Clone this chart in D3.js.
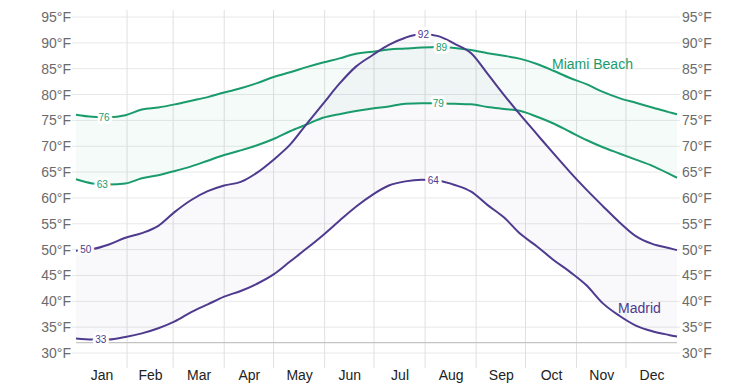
<!DOCTYPE html>
<html>
<head>
<meta charset="utf-8">
<script src="https://cdn.jsdelivr.net/npm/d3@7"></script>
<style>
  html, body { margin: 0; padding: 0; background: #fff; }
  svg { display: block; font-family: "Liberation Sans", Arial, sans-serif; }
</style>
</head>
<body>
<svg id="chart" width="753" height="387"></svg>
<script>
// ---- data (day of year, °F) ----
const days = [0,10,20,30,40,50,60,70,80,90,100,110,120,130,140,150,160,170,180,190,200,210,220,230,240,250,260,270,280,290,300,310,320,330,340,350,360,365];

const miamiHigh = [76.1,75.7,75.6,76.0,77.1,77.5,78.1,78.8,79.5,80.4,81.2,82.2,83.4,84.3,85.3,86.2,87.0,87.9,88.3,88.7,88.9,89.1,89.2,89.0,88.6,88.0,87.5,86.9,85.9,84.6,83.2,82.0,80.5,79.3,78.4,77.5,76.6,76.2];
const miamiLow  = [63.6,62.8,62.6,62.8,63.8,64.4,65.2,66.1,67.2,68.3,69.2,70.2,71.4,72.9,74.2,75.5,76.2,76.8,77.3,77.7,78.2,78.3,78.3,78.2,78.1,77.6,77.2,76.8,75.7,74.4,72.8,71.2,69.8,68.6,67.4,66.2,64.7,63.9];
const madridHigh = [49.8,50.1,51.0,52.3,53.2,54.6,57.3,59.6,61.3,62.4,63.1,64.9,67.4,70.3,74.3,78.2,82.1,85.4,87.6,89.6,91.0,91.7,91.3,89.8,88.0,84.0,79.9,76.0,72.3,68.6,65.0,61.6,58.4,55.3,52.6,51.1,50.3,49.9];
const madridLow  = [32.8,32.6,32.6,33.1,33.8,34.8,36.1,37.9,39.4,40.9,42.0,43.4,45.2,47.7,50.2,52.8,55.6,58.3,60.6,62.4,63.2,63.5,63.3,62.5,61.2,58.6,56.2,53.0,50.6,48.0,45.7,43.1,39.6,37.2,35.3,34.2,33.5,33.2];

const months = ["Jan","Feb","Mar","Apr","May","Jun","Jul","Aug","Sep","Oct","Nov","Dec"];
const monthStarts = [0,31,59,90,120,151,181,212,243,273,304,334,365];
const yTicks = [30,35,40,45,50,55,60,65,70,75,80,85,90,95];
const freezing = 32;

// extreme labels: [day, shown value]
const miamiHighLabels = [[17,76],[222,89]];
const miamiLowLabels  = [[16,63],[220,79]];
const madridHighLabels = [[6,50],[211,92]];
const madridLowLabels  = [[15,33],[217,64]];

// ---- drawing ----
const svg = d3.select("#chart");
const x = d3.scaleLinear().domain([0,365]).range([76,677]);
const y = d3.scaleLinear().domain([30,95]).range([353,17]);

const green = "#1a9b6c";
const purple = "#4e3a8e";

// horizontal grid
svg.append("g").selectAll("line").data(yTicks).join("line")
  .attr("x1", 72).attr("x2", 680)
  .attr("y1", d => y(d)).attr("y2", d => y(d))
  .attr("stroke", "#e8e8e8").attr("stroke-width", 1);

// vertical grid at month boundaries
svg.append("g").selectAll("line").data(monthStarts.slice(1,12)).join("line")
  .attr("x1", d => x(d)).attr("x2", d => x(d))
  .attr("y1", 10).attr("y2", 368)
  .attr("stroke", "#e0e0e0").attr("stroke-width", 1);

// freezing line
svg.append("line")
  .attr("x1", x(0)).attr("x2", x(365))
  .attr("y1", y(freezing)).attr("y2", y(freezing))
  .attr("stroke", "#c4c4c4").attr("stroke-width", 1.2);

// y axis labels (both sides)
const yAxisL = d3.axisLeft(y).tickValues(yTicks).tickSize(0).tickPadding(0).tickFormat(d => d + "°F");
const gl = svg.append("g").attr("transform", "translate(71,0)").call(yAxisL);
const yAxisR = d3.axisRight(y).tickValues(yTicks).tickSize(0).tickPadding(0).tickFormat(d => d + "°F");
const gr = svg.append("g").attr("transform", "translate(682,0)").call(yAxisR);
[gl, gr].forEach(g => {
  g.select(".domain").remove();
  g.selectAll("text").attr("fill", "#6b6b6b").style("font-size", "14px")
    .style("font-family", "'Liberation Sans', Arial, sans-serif");
});

// month labels
const xAxis = d3.axisBottom(x)
  .tickValues(months.map((m,i) => (monthStarts[i] + monthStarts[i+1]) / 2))
  .tickSize(0).tickPadding(0)
  .tickFormat((d,i) => months[i]);
const gx = svg.append("g").attr("transform", "translate(0,370)").call(xAxis);
gx.select(".domain").remove();
gx.selectAll("text").attr("fill", "#222").style("font-size", "14px")
  .style("font-family", "'Liberation Sans', Arial, sans-serif");

function series(hi, lo) { return days.map((d,i) => ({d, hi: hi[i], lo: lo[i]})); }
const miami = series(miamiHigh, miamiLow);
const madrid = series(madridHigh, madridLow);

const curve = d3.curveMonotoneX;
const area = d3.area().x(p => x(p.d)).y0(p => y(p.lo)).y1(p => y(p.hi)).curve(curve);
const lineHi = d3.line().x(p => x(p.d)).y(p => y(p.hi)).curve(curve);
const lineLo = d3.line().x(p => x(p.d)).y(p => y(p.lo)).curve(curve);

svg.append("path").datum(miami).attr("d", area).attr("fill", green).attr("fill-opacity", 0.045);
svg.append("path").datum(madrid).attr("d", area).attr("fill", purple).attr("fill-opacity", 0.035);

[[miami, green], [madrid, purple]].forEach(([s, c]) => {
  svg.append("path").datum(s).attr("d", lineHi).attr("fill", "none").attr("stroke", c).attr("stroke-width", 2);
  svg.append("path").datum(s).attr("d", lineLo).attr("fill", "none").attr("stroke", c).attr("stroke-width", 2);
});

// value labels
function valAt(arr, d) {
  const i = Math.min(days.length - 2, d3.bisectRight(days, d) - 1);
  const t = (d - days[i]) / (days[i+1] - days[i]);
  return arr[i] + (arr[i+1] - arr[i]) * t;
}
[[miamiHighLabels, miamiHigh, green], [miamiLowLabels, miamiLow, green],
 [madridHighLabels, madridHigh, purple], [madridLowLabels, madridLow, purple]].forEach(([labs, arr, c]) => {
  svg.append("g").selectAll("text").data(labs).join("text")
    .attr("x", d => x(d[0])).attr("y", d => y(valAt(arr, d[0])))
    .attr("text-anchor", "middle").attr("dy", "0.36em")
    .attr("fill", c).attr("stroke", "#fff").attr("stroke-width", 6)
    .attr("paint-order", "stroke").attr("stroke-linejoin", "round")
    .style("font-size", "10px")
    .text(d => d[1]);
});

// series names
svg.append("text").attr("x", 552).attr("y", 69).attr("fill", green)
  .style("font-size", "14px").text("Miami Beach");
svg.append("text").attr("x", 618).attr("y", 313).attr("fill", purple)
  .style("font-size", "14px").text("Madrid");
</script>
</body>
</html>
